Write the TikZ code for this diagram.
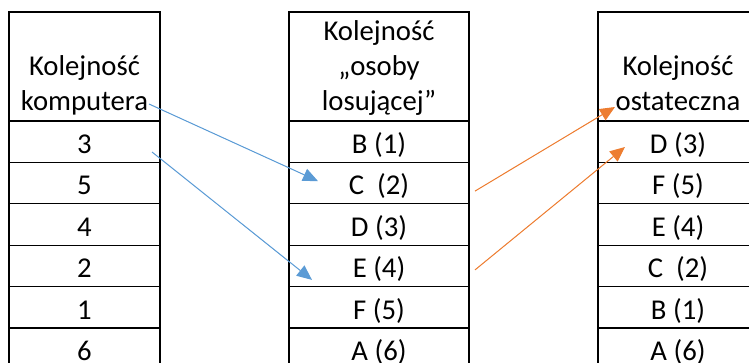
\documentclass[tikz,border=0pt]{standalone}
\usepackage{fontspec}
\setmainfont{Carlito}
\usetikzlibrary{arrows.meta, positioning}
\definecolor{officeblue}{RGB}{91,155,213}
\definecolor{officeorange}{RGB}{237,125,49}

\begin{document}
\begin{tikzpicture}[
        x=1pt, y=1pt,
        >={Triangle[length=15pt, width=13pt]}
    ]
    \tikzset{
        cell/.style = {draw, line width=1.3pt, inner sep=0pt, outer sep=0pt,
                       minimum height=41.4pt, text height=27.5pt, text depth=3.9pt,
                       font=\fontsize{28.7pt}{35pt}\selectfont},
        headcell/.style = {draw, line width=1.3pt, inner sep=0pt, outer sep=0pt,
                           minimum height=109pt, anchor=north},
        headtext/.style = {align=center, inner sep=0pt, text depth=0pt,
                           font=\fontsize{28.7pt}{35pt}\selectfont},
        bluearrow/.style = {->, draw=officeblue, fill=officeblue, line width=1pt},
        orangearrow/.style = {->, draw=officeorange, fill=officeorange, line width=1pt}
    }
    \useasboundingbox (0,0) rectangle (749,-363);

    % Left column (computer order)
    \node[headcell, minimum width=151pt] (l0) at (84.5,-12) {};
    \node[headtext, above=10pt of l0.south] (l0t) {Kolejność\\komputera};
    \node[cell, minimum width=151pt, below=0pt of l0] (l1) {3};
    \node[cell, minimum width=151pt, below=0pt of l1] (l2) {5};
    \node[cell, minimum width=151pt, below=0pt of l2] (l3) {4};
    \node[cell, minimum width=151pt, below=0pt of l3] (l4) {2};
    \node[cell, minimum width=151pt, below=0pt of l4] (l5) {1};
    \node[cell, minimum width=151pt, below=0pt of l5] (l6) {6};

    % Middle column (drawing person's order)
    \node[headcell, minimum width=180pt] (m0) at (379,-12) {};
    \node[headtext, above=10pt of m0.south] (m0t) {Kolejność\\„osoby\\losującej”};
    \node[cell, minimum width=180pt, below=0pt of m0] (m1) {B (1)};
    \node[cell, minimum width=180pt, below=0pt of m1] (m2) {C\ \ (2)};
    \node[cell, minimum width=180pt, below=0pt of m2] (m3) {D (3)};
    \node[cell, minimum width=180pt, below=0pt of m3] (m4) {E (4)};
    \node[cell, minimum width=180pt, below=0pt of m4] (m5) {F (5)};
    \node[cell, minimum width=180pt, below=0pt of m5] (m6) {A (6)};

    % Right column (final order)
    \node[headcell, minimum width=160pt] (r0) at (678,-12) {};
    \node[headtext, above=10pt of r0.south] (r0t) {Kolejność\\ostateczna};
    \node[cell, minimum width=160pt, below=0pt of r0] (r1) {D (3)};
    \node[cell, minimum width=160pt, below=0pt of r1] (r2) {F (5)};
    \node[cell, minimum width=160pt, below=0pt of r2] (r3) {E (4)};
    \node[cell, minimum width=160pt, below=0pt of r3] (r4) {C\ \ (2)};
    \node[cell, minimum width=160pt, below=0pt of r4] (r5) {B (1)};
    \node[cell, minimum width=160pt, below=0pt of r5] (r6) {A (6)};

    % Blue arrows (left to middle)
    \draw[bluearrow] ([shift={(-11pt,17pt)}]l0.south east) -- ([shift={(29pt,2pt)}]m2.west);
    \draw[bluearrow] ([shift={(-8pt,-10.3pt)}]l1.east) -- ([shift={(23pt,-14pt)}]m4.west);

    % Orange arrows (middle to right)
    \draw[orangearrow] ([shift={(6pt,-8pt)}]m2.east) -- ([shift={(17pt,14pt)}]r0.south west);
    \draw[orangearrow] ([shift={(6pt,-4pt)}]m4.east) -- ([shift={(27pt,-5.3pt)}]r1.west);

\end{tikzpicture}
\end{document}
